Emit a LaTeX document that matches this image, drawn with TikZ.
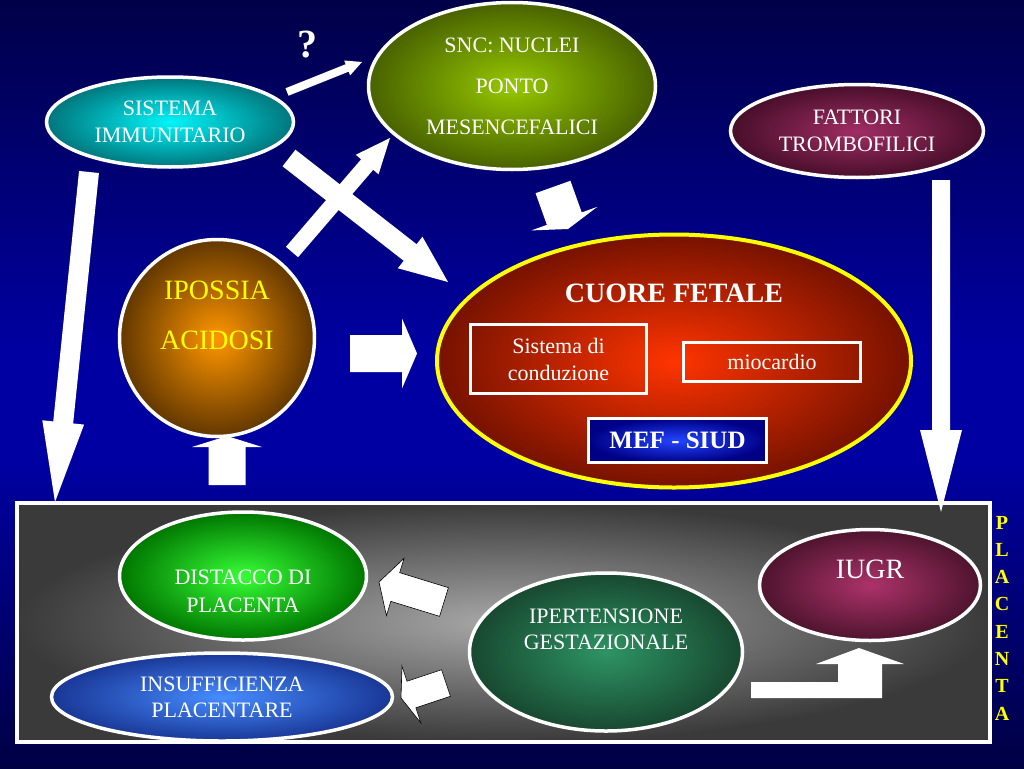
\documentclass[tikz,border=0pt]{standalone}
\usepackage{fontspec}
\setmainfont{Liberation Serif}
\usetikzlibrary{shapes.geometric,calc}
\definecolor{bgtop}{RGB}{0,0,72}
\definecolor{bgmid}{RGB}{0,0,162}
\definecolor{bgbot}{RGB}{0,0,68}
\definecolor{sisin}{RGB}{0,245,250}
\definecolor{sisout}{RGB}{0,118,124}
\definecolor{sncin}{RGB}{150,200,0}
\definecolor{sncout}{RGB}{72,98,0}
\definecolor{fatin}{RGB}{160,45,100}
\definecolor{fatout}{RGB}{72,14,42}
\definecolor{ipoin}{RGB}{255,150,0}
\definecolor{ipoout}{RGB}{98,55,0}
\definecolor{cuoin}{RGB}{255,52,0}
\definecolor{cuoout}{RGB}{118,18,0}
\definecolor{disin}{RGB}{55,255,55}
\definecolor{disout}{RGB}{0,118,0}
\definecolor{insin}{RGB}{70,140,255}
\definecolor{insout}{RGB}{25,55,150}
\definecolor{ipein}{RGB}{45,148,100}
\definecolor{ipeout}{RGB}{24,72,48}
\definecolor{iugin}{RGB}{172,50,105}
\definecolor{iugout}{RGB}{78,20,46}
\definecolor{plain}{RGB}{168,168,168}
\definecolor{plaout}{RGB}{58,58,58}
\definecolor{mefin}{RGB}{35,70,255}
\definecolor{mefout}{RGB}{0,0,135}
\definecolor{yel}{RGB}{255,255,0}
\pgfdeclareverticalshading{bgshade}{100bp}{color(0bp)=(bgbot); color(25bp)=(bgbot); color(45bp)=(bgmid); color(52bp)=(bgmid); color(75bp)=(bgtop); color(100bp)=(bgtop)}
\newcommand\blkarrow[6]{%
  \coordinate (hb) at ($(#3)!#6!(#2)$);
  \path[#1] ($(#2)!#4!90:(#3)$) -- ($(hb)!#4!90:(#3)$) -- ($(hb)!#5!90:(#3)$) -- (#3) -- ($(hb)!#5!-90:(#3)$) -- ($(hb)!#4!-90:(#3)$) -- ($(#2)!#4!-90:(#3)$) -- cycle;}
\begin{document}
\begin{tikzpicture}[x=1pt,y=-1pt,
  ell/.style={ellipse, draw=white, line width=3.5pt, inner sep=0pt, text=white, align=center, font=\fontsize{22pt}{27pt}\selectfont},
  box/.style={rectangle, draw=white, line width=3pt, inner sep=0pt, text=white, align=center, font=\fontsize{22pt}{27pt}\selectfont},
  txt/.style={text=white, align=center, inner sep=0pt, font=\fontsize{22pt}{27pt}\selectfont},
  warr/.style={fill=white},
  parr/.style={fill=white, draw=black, line width=0.6pt}]
\useasboundingbox (0,0) rectangle (1024,768);
\shade[shading=bgshade] (0,0) rectangle (1024,768);

% placenta frame
\node[rectangle, draw=white, line width=4pt, inner color=plain, outer color=plaout, minimum width=973pt, minimum height=239pt, inner sep=0pt] (plac) at (503.5,622.5) {};
\node[text=yel, align=center, inner sep=0pt, font=\bfseries\fontsize{20pt}{27.3pt}\selectfont] (plactxt) at (1002,618) {P\\L\\A\\C\\E\\N\\T\\A};

% top nodes
\node[ell, inner color=sisin, outer color=sisout, minimum width=247pt, minimum height=90pt] (sis) at (170,122) {SISTEMA\\IMMUNITARIO};
\node[ell, inner color=sncin, outer color=sncout, minimum width=287pt, minimum height=167pt, font=\fontsize{22pt}{41pt}\selectfont] (snc) at (512,86) {SNC: NUCLEI\\PONTO\\MESENCEFALICI};
\node[ell, inner color=fatin, outer color=fatout, minimum width=253pt, minimum height=93pt] (fat) at (857,131) {FATTORI\\TROMBOFILICI};
\node[ell, inner color=ipoin, outer color=ipoout, minimum width=195pt, minimum height=197pt] (ipo) at (217,338) {};
\node[txt, text=yel, font=\fontsize{28pt}{50pt}\selectfont] (ipotxt) at ($(ipo.center)+(0,-23)$) {IPOSSIA\\ACIDOSI};
\node[ell, draw=yel, line width=4pt, inner color=cuoin, outer color=cuoout, minimum width=474pt, minimum height=253pt] (cuore) at (674,361) {};
\node[txt, font=\bfseries\fontsize{28pt}{32pt}\selectfont] (cuoretxt) at (674,293) {CUORE FETALE};
\node[box, minimum width=176pt, minimum height=69pt] (sdc) at (558.5,359) {Sistema di\\conduzione};
\node[box, minimum width=177pt, minimum height=39pt] (mio) at (772,362) {miocardio};
\node[box, inner color=mefin, outer color=mefout, minimum width=178pt, minimum height=44pt, font=\bfseries\fontsize{25pt}{30pt}\selectfont] (mef) at (677.5,440.5) {MEF - SIUD};
\node[text=white, inner sep=0pt, font=\bfseries\fontsize{40pt}{44pt}\selectfont] (qm) at (307,45) {?};

% placenta nodes
\node[ell, inner color=disin, outer color=disout, minimum width=247pt, minimum height=128pt] (dis) at (243,576) {};
\node[txt, font=\fontsize{22pt}{28pt}\selectfont] (distxt) at ($(dis.center)+(0,15)$) {DISTACCO DI\\PLACENTA};
\node[ell, inner color=insin, outer color=insout, minimum width=341pt, minimum height=88pt, font=\fontsize{22pt}{26pt}\selectfont] (ins) at (222,697) {INSUFFICIENZA\\PLACENTARE};
\node[ell, inner color=ipein, outer color=ipeout, minimum width=273pt, minimum height=158pt] (ipe) at (606,652) {};
\node[txt, font=\fontsize{22pt}{26pt}\selectfont] (ipetxt) at ($(ipe.center)+(0,-23)$) {IPERTENSIONE\\GESTAZIONALE};
\node[ell, inner color=iugin, outer color=iugout, minimum width=221pt, minimum height=111pt] (iugr) at (870,585) {};
\node[txt, font=\fontsize{28pt}{32pt}\selectfont] (iugrtxt) at ($(iugr.center)+(0,-16)$) {IUGR};

% arrow end points
\coordinate (a1s) at (89,172);   \coordinate (a1e) at (55,502);
\coordinate (a2s) at (941,180);  \coordinate (a2e) at (941,512);
\coordinate (a3s) at (292,252);  \coordinate (a3e) at (390,138);
\coordinate (a4s) at (289,158);  \coordinate (a4e) at (448,282);
\coordinate (a5s) at (553,187);  \coordinate (a5e) at (568,229);
\coordinate (a6s) at (350,353.5);\coordinate (a6e) at (417,353.5);
\coordinate (a7s) at (227,485);  \coordinate (a7e) at (227,436);
\coordinate (a8s) at (444,602);  \coordinate (a8e) at (379,582);
\coordinate (a9s) at (446,683);  \coordinate (a9e) at (401,698);
\coordinate (aqs) at (287,92);   \coordinate (aqe) at (362,62);
\coordinate (e1) at (859,648);

% arrows
\blkarrow{warr}{a1s}{a1e}{10pt}{21pt}{80pt}
\blkarrow{warr}{a2s}{a2e}{9pt}{21pt}{82pt}
\blkarrow{warr}{a4s}{a4e}{10.5pt}{20pt}{48pt}
\blkarrow{warr}{a3s}{a3e}{8pt}{15pt}{35pt}
\blkarrow{warr}{a5s}{a5e}{18.5pt}{35pt}{11pt}
\blkarrow{warr}{a6s}{a6e}{18.5pt}{35pt}{15pt}
\blkarrow{warr}{a7s}{a7e}{18.5pt}{35pt}{11pt}
\blkarrow{parr}{a8s}{a8e}{15pt}{30pt}{17pt}
\blkarrow{parr}{a9s}{a9e}{14pt}{30pt}{11pt}
\blkarrow{warr}{aqs}{aqe}{4pt}{8pt}{16pt}
\fill[white] (751,682) -- (838,682) -- (838,664) -- (816,664) -- (e1) -- (904,664) -- (882,664) -- (882,698) -- (751,698) -- cycle;
\end{tikzpicture}
\end{document}
